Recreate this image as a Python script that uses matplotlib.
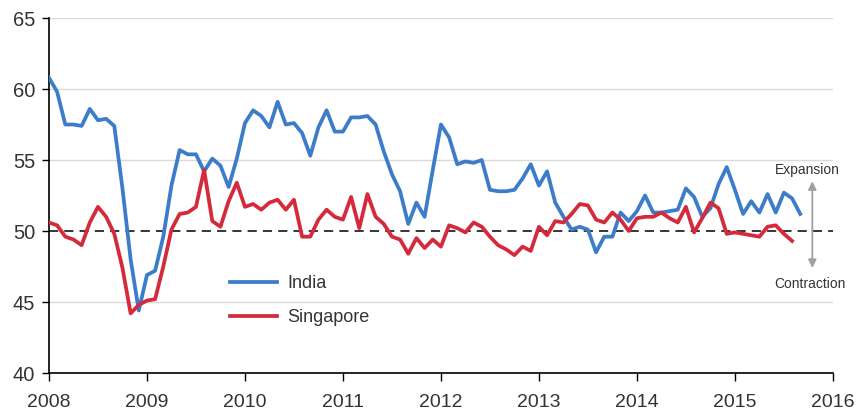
import numpy as np
import matplotlib.pyplot as plt

# Monthly PMI readings, Jan 2008 onwards
india = [
    60.8, 59.8, 57.5, 57.5, 57.4, 58.6, 57.8, 57.9, 57.4, 53.0, 48.0, 44.4,  # 2008
    46.9, 47.2, 49.6, 53.2, 55.7, 55.4, 55.4, 54.2, 55.1, 54.6, 53.1, 55.1,  # 2009
    57.6, 58.5, 58.1, 57.3, 59.1, 57.5, 57.6, 56.9, 55.3, 57.3, 58.5, 57.0,  # 2010
    57.0, 58.0, 58.0, 58.1, 57.5, 55.6, 54.0, 52.8, 50.5, 52.0, 51.0, 54.3,  # 2011
    57.5, 56.6, 54.7, 54.9, 54.8, 55.0, 52.9, 52.8, 52.8, 52.9, 53.7, 54.7,  # 2012
    53.2, 54.2, 52.0, 51.0, 50.1, 50.3, 50.1, 48.5, 49.6, 49.6, 51.3, 50.7,  # 2013
    51.4, 52.5, 51.3, 51.3, 51.4, 51.5, 53.0, 52.4, 51.0, 51.6, 53.3, 54.5,  # 2014
    52.9, 51.2, 52.1, 51.3, 52.6, 51.3, 52.7, 52.3, 51.2,                    # 2015
]
singapore = [
    50.6, 50.4, 49.6, 49.4, 49.0, 50.6, 51.7, 51.0, 49.8, 47.4, 44.2, 44.8,  # 2008
    45.1, 45.2, 47.5, 50.1, 51.2, 51.3, 51.7, 54.3, 50.7, 50.3, 52.1, 53.4,  # 2009
    51.7, 51.9, 51.5, 52.0, 52.2, 51.5, 52.2, 49.6, 49.6, 50.8, 51.5, 51.0,  # 2010
    50.8, 52.4, 50.2, 52.6, 51.0, 50.5, 49.6, 49.4, 48.4, 49.5, 48.8, 49.4,  # 2011
    48.9, 50.4, 50.2, 49.9, 50.6, 50.3, 49.6, 49.0, 48.7, 48.3, 48.9, 48.6,  # 2012
    50.3, 49.7, 50.7, 50.6, 51.2, 51.9, 51.8, 50.8, 50.6, 51.3, 50.8, 50.0,  # 2013
    50.9, 51.0, 51.0, 51.3, 50.9, 50.6, 51.7, 49.9, 50.9, 52.0, 51.6, 49.8,  # 2014
    49.9, 49.8, 49.7, 49.6, 50.3, 50.4, 49.8, 49.3,                          # 2015
]
year_ticks = list(range(2008, 2017))
y_ticks = [40, 45, 50, 55, 60, 65]

t_india = 2008 + np.arange(len(india)) / 12
t_sing = 2008 + np.arange(len(singapore)) / 12

plt.rcParams["font.family"] = ["Liberation Sans", "DejaVu Sans"]
txt = "#333333"

fig = plt.figure(figsize=(8.56, 4.15), dpi=100)
ax = fig.add_axes([0.0572, 0.1012, 0.9158, 0.8554])

for y in [45, 55, 60, 65]:
    ax.axhline(y, color="#dadada", lw=1.0, zorder=0)
ax.axhline(50, color="black", lw=1.1, ls=(0, (6, 4)), zorder=1)

ax.plot(t_india, india, color="#3d7cc9", lw=2.7, label="India", zorder=3,
        solid_joinstyle="round")
ax.plot(t_sing, singapore, color="#d42a3b", lw=2.7, label="Singapore", zorder=4,
        solid_joinstyle="round")

ax.set_xlim(2008, 2016)
ax.set_ylim(40, 65)
ax.set_xticks(year_ticks)
ax.set_xticklabels([str(y) for y in year_ticks])
ax.set_yticks(y_ticks)
ax.tick_params(axis="both", colors="black", labelcolor=txt,
               direction="out", width=1.0)
ax.tick_params(axis="x", labelsize=14, length=6, pad=9)
ax.tick_params(axis="y", labelsize=14.5, length=5, pad=5)
for s in ["top", "right"]:
    ax.spines[s].set_visible(False)
for s in ["left", "bottom"]:
    ax.spines[s].set_linewidth(1.2)

# expansion / contraction marker
ax.annotate("", xy=(2015.79, 47.4), xytext=(2015.79, 53.5),
            arrowprops=dict(arrowstyle="<|-|>", color="#a0a0a0", lw=1.3,
                            mutation_scale=12, shrinkA=0, shrinkB=0))
ax.text(2015.74, 54.3, "Expansion", fontsize=10, color=txt, ha="center", va="center")
ax.text(2015.77, 46.3, "Contraction", fontsize=10, color=txt, ha="center", va="center")

ax.legend(loc="upper left", bbox_to_anchor=(0.231, 0.276), frameon=False,
          fontsize=13, handlelength=2.6, handletextpad=0.55, labelspacing=0.95,
          borderpad=0, borderaxespad=0, labelcolor=txt)

plt.savefig("out.png", dpi=100)
